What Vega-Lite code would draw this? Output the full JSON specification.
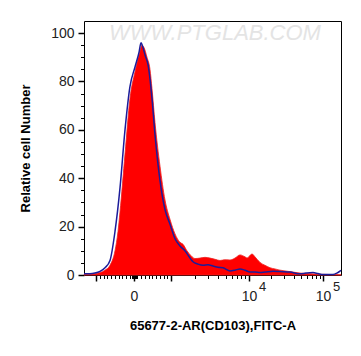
{
  "$schema": "https://vega.github.io/schema/vega-lite/v6.json",
  "width": 257,
  "height": 254,
  "autosize": {"type": "none"},
  "padding": {"left": 84, "top": 21, "right": 20, "bottom": 81},
  "background": "white",
  "config": {
    "view": {"stroke": "black", "strokeWidth": 1},
    "font": "Liberation Sans"
  },
  "datasets": {
    "sample": [
      {"ch": 0, "count": 0.2}, {"ch": 6, "count": 0.3}, {"ch": 11, "count": 0.5}, {"ch": 16, "count": 1},
      {"ch": 21, "count": 2}, {"ch": 26, "count": 4}, {"ch": 31, "count": 10}, {"ch": 34, "count": 18},
      {"ch": 36, "count": 26}, {"ch": 41, "count": 50}, {"ch": 46, "count": 73}, {"ch": 51, "count": 84},
      {"ch": 55, "count": 91}, {"ch": 58, "count": 95}, {"ch": 60, "count": 94}, {"ch": 63, "count": 90},
      {"ch": 66, "count": 85}, {"ch": 68, "count": 77}, {"ch": 71, "count": 63}, {"ch": 76, "count": 45},
      {"ch": 81, "count": 31}, {"ch": 86, "count": 23}, {"ch": 91, "count": 17}, {"ch": 96, "count": 13.5},
      {"ch": 99, "count": 12.7}, {"ch": 103, "count": 10}, {"ch": 107, "count": 8}, {"ch": 111, "count": 6.8},
      {"ch": 116, "count": 7}, {"ch": 121, "count": 7.3}, {"ch": 126, "count": 7}, {"ch": 131, "count": 6.5},
      {"ch": 136, "count": 6}, {"ch": 141, "count": 6.3}, {"ch": 146, "count": 6.2}, {"ch": 151, "count": 7},
      {"ch": 156, "count": 8.3}, {"ch": 161, "count": 7.5}, {"ch": 163, "count": 7}, {"ch": 168, "count": 8.7},
      {"ch": 171, "count": 7.5}, {"ch": 176, "count": 5.2}, {"ch": 181, "count": 4}, {"ch": 186, "count": 3},
      {"ch": 191, "count": 2.5}, {"ch": 196, "count": 2}, {"ch": 201, "count": 1.7}, {"ch": 209, "count": 1.2},
      {"ch": 216, "count": 0.8}, {"ch": 223, "count": 0.6}, {"ch": 231, "count": 0.4}, {"ch": 236, "count": 0.3},
      {"ch": 246, "count": 0.2}, {"ch": 257, "count": 0.1}
    ],
    "control": [
      {"ch": 0, "count": 0.5}, {"ch": 6, "count": 0.5}, {"ch": 11, "count": 0.8}, {"ch": 16, "count": 1.5},
      {"ch": 21, "count": 3}, {"ch": 26, "count": 6}, {"ch": 31, "count": 18}, {"ch": 36, "count": 36},
      {"ch": 41, "count": 60}, {"ch": 46, "count": 78}, {"ch": 51, "count": 86}, {"ch": 55, "count": 92},
      {"ch": 57, "count": 96}, {"ch": 59, "count": 94}, {"ch": 61, "count": 91}, {"ch": 64, "count": 87},
      {"ch": 68, "count": 73}, {"ch": 71, "count": 58}, {"ch": 76, "count": 39}, {"ch": 81, "count": 27},
      {"ch": 86, "count": 21}, {"ch": 91, "count": 15}, {"ch": 96, "count": 12}, {"ch": 101, "count": 10},
      {"ch": 106, "count": 7}, {"ch": 109, "count": 5.5}, {"ch": 114, "count": 4.5}, {"ch": 119, "count": 4},
      {"ch": 124, "count": 4.2}, {"ch": 129, "count": 3.7}, {"ch": 134, "count": 3.2}, {"ch": 139, "count": 3},
      {"ch": 146, "count": 1.7}, {"ch": 151, "count": 2}, {"ch": 156, "count": 2.5}, {"ch": 161, "count": 2},
      {"ch": 166, "count": 1.2}, {"ch": 171, "count": 1.2}, {"ch": 176, "count": 1}, {"ch": 181, "count": 1.2},
      {"ch": 189, "count": 1.6}, {"ch": 196, "count": 1.4}, {"ch": 206, "count": 1.2}, {"ch": 216, "count": 0.5},
      {"ch": 222, "count": 0.8}, {"ch": 229, "count": 1}, {"ch": 234, "count": 0.6}, {"ch": 239, "count": 0.2},
      {"ch": 244, "count": 0.2}, {"ch": 249, "count": 0.2}, {"ch": 253, "count": 0.8}, {"ch": 256, "count": 1.6},
      {"ch": 257, "count": 2}
    ],
    "watermark": [{"ch": 131, "count": 100, "label": "WWW.PTGLAB.COM"}]
  },
  "resolve": {"axis": {"x": "independent", "y": "independent"}},
  "layer": [
    {
      "data": {"name": "sample"},
      "mark": {"type": "area", "color": "#ff0000", "opacity": 1, "interpolate": "monotone", "stroke": "#ee2222", "strokeWidth": 0.8},
      "encoding": {
        "x": {
          "field": "ch", "type": "quantitative",
          "scale": {"domain": [0, 257], "nice": false, "zero": false},
          "axis": {
            "orient": "bottom",
            "values": [12, 50, 87, 165, 239],
            "labelExpr": "datum.value == 50 ? '0' : datum.value == 165 ? '10' : datum.value == 239 ? '10' : ''",
            "domain": false, "grid": false,
            "tickSize": 6, "tickColor": "black", "tickWidth": 1.5,
            "labelFont": "Liberation Sans", "labelFontSize": 14, "labelColor": "#222222", "labelPadding": 8,
            "labelFlush": false,
            "title": "65677-2-AR(CD103),FITC-A",
            "titleFont": "Liberation Sans", "titleFontSize": 13, "titleFontWeight": "bold", "titleColor": "black",
            "titlePadding": 16
          }
        },
        "y": {
          "field": "count", "type": "quantitative",
          "scale": {"domain": [0, 105], "nice": false},
          "axis": {
            "orient": "left",
            "values": [0, 20, 40, 60, 80, 100],
            "domain": false, "grid": false,
            "tickSize": 6, "tickColor": "black", "tickWidth": 1.5,
            "labelFont": "Liberation Sans", "labelFontSize": 14, "labelColor": "#222222", "labelPadding": 4,
            "labelFlush": false,
            "title": "Relative cell Number",
            "titleFont": "Liberation Sans", "titleFontSize": 13, "titleFontWeight": "bold", "titleColor": "black",
            "titlePadding": 18
          }
        }
      }
    },
    {
      "data": {"name": "control"},
      "mark": {"type": "line", "color": "#1c1c9a", "strokeWidth": 1.5, "interpolate": "monotone"},
      "encoding": {
        "x": {
          "field": "ch", "type": "quantitative",
          "axis": {
            "orient": "bottom",
            "values": [15.75, 19.5, 23.25, 27, 30.75, 34.5, 38.25, 42, 45.75, 48, 49, 51, 52, 53.25, 57, 60.75, 64.5, 68.25, 72, 75.75, 79.5, 83.25,
                       110.5, 124.2, 134, 141.5, 147.7, 152.9, 157.4, 161.4,
                       187.3, 200.3, 209.5, 216.7, 222.6, 227.5, 231.8, 235.6],
            "labels": false, "domain": false, "grid": false,
            "tickSize": 3.5, "tickColor": "black", "tickWidth": 1,
            "title": null
          }
        },
        "y": {
          "field": "count", "type": "quantitative",
          "axis": {
            "orient": "left",
            "values": [5, 10, 15, 25, 30, 35, 45, 50, 55, 65, 70, 75, 85, 90, 95],
            "labels": false, "domain": false, "grid": false,
            "tickSize": 3.5, "tickColor": "black", "tickWidth": 1,
            "title": null
          }
        }
      }
    },
    {
      "data": {"name": "watermark"},
      "mark": {"type": "text", "font": "Liberation Sans", "fontSize": 22, "fontStyle": "italic", "color": "#e4e4e4", "align": "center", "baseline": "middle"},
      "encoding": {
        "x": {
          "field": "ch", "type": "quantitative",
          "axis": {
            "orient": "bottom",
            "values": [178, 252],
            "labelExpr": "datum.value == 178 ? '4' : '5'",
            "ticks": false, "domain": false, "grid": false,
            "labelFont": "Liberation Sans", "labelFontSize": 13, "labelColor": "#222222", "labelPadding": 5,
            "labelFlush": false, "labelOverlap": false,
            "title": null
          }
        },
        "y": {"field": "count", "type": "quantitative", "axis": null},
        "text": {"field": "label"}
      }
    }
  ]
}
